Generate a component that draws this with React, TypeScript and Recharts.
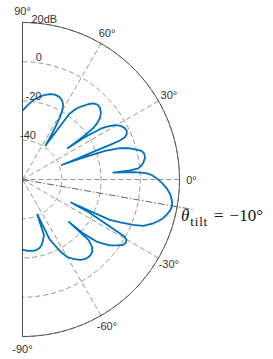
import { RadarChart, Radar, PolarGrid, PolarAngleAxis, PolarRadiusAxis } from 'recharts';

// beam pattern (degrees, dB)
const ANGLES_DEG = [
    90, 86, 82, 78, 75, 72, 69, 66, 63.8, 61.5, 60, 59, 58, 57, 56,
    55, 54.5, 53, 51, 49, 47, 45, 42.7, 40.5, 38.4, 37, 36, 35.2, 34.6,
    34.2, 33, 32, 30.5, 28.5, 26.5, 25, 23.5, 22.5, 21.8, 21.6, 21.4, 20.9, 20.3,
    19.8, 19.1, 18, 16.5, 15, 13.5, 12, 10, 8, 6.5, 5.5, 4.8, 4.3,
    3.8, 3, 2, 0.5, -1.5, -3.5, -5.5, -7.8, -10, -11.7, -13.5, -15.4, -17, -18.5, -19.5, -21, -22.3, -23.5, -24.8, -25.3,
    -26.4, -28.3, -29.2, -30.2, -31.7, -33.1, -35, -37, -38.5, -40, -41.5, -42.4,
    -42.5, -44, -46, -48, -50, -52, -54.3, -57, -60, -62, -64, -65.6, -67,
    -68.8, -71.3, -73.5, -76, -79, -82, -86, -90,
];
const GAIN_DB = [
    -24.9, -22.0, -19.0, -16.8, -15.3, -14.2, -13.7, -13.9, -14.7, -16.5, -19.5, -23, -28, -33, -39,
    -30, -19, -15, -12, -9.2, -7, -6.0, -6.2, -7.5, -9.6, -12.5, -15.4, -22, -32,
    -22, -12.5, -9.2, -5.3, -2.8, -1.6, -1.4, -2.1, -3.6, -6.5, -12, -20, -30, -38.7,
    -28, -15.5, -8.5, -3.8, -0.5, 2.4, 3.4, 3.4, 2.2, 0.8, -0.7, -5, -13.6,
    -3, 3, 5.8, 8.4, 11.2, 13.6, 15.5, 16.8, 17.4, 16.9, 15.8, 14.3, 12.4, 10.3, 8.5, 6, 1.0, -5, -11, -32.6,
    -21.6, -9.3, -0.5, 1.3, 1.7, 1.1, -1.5, -4.2, -7.5, -11, -18, -28,
    -14.3, -10.8, -8.8, -8.2, -8.1, -8.5, -9.5, -11.6, -14.4, -18, -23, -26.5, -40.7,
    -29.7, -27.4, -25.3, -24, -23.4, -23.3, -23.6, -24.3,
];

const SPOKES = [60, 30, 0, -30, -60];
const R_MIN = -60;
const R_MAX = 20;
const TILT = -10;
const TILT_REACH = 28; // dash-dot line runs a bit past the outer ring

const OUTER_R = 157;
const ARC = Array.from({ length: 181 }, (_, i) => 90 - i);

const rows = ANGLES_DEG.map((angle, i) => ({ angle, gain: GAIN_DB[i] }));

const FONT = '"Liberation Sans", Arial, sans-serif';
const GRID = '#7a7a7a';

function AngleTick({ x, y, payload }: any) {
    return (
        <text x={x} y={y} textAnchor="middle" dominantBaseline="central" fontSize={11} fill="#333" fontFamily={FONT}>
            {`${payload.value}°`}
        </text>
    );
}

function RadiusTick({ x, y, payload }: any) {
    if (payload.value <= R_MIN) return <g />;
    const label = payload.value === R_MAX ? `${payload.value}dB` : `${payload.value}`;
    return (
        <text x={x} y={y - 1.5} textAnchor="middle" fontSize={11} fill="#333" fontFamily={FONT}>
            {label}
        </text>
    );
}

function PatternShape(props: any) {
    const pts = props.points ?? [];
    if (!pts.length) return <g />;
    const d = pts.map((p: any, i: number) => `${i ? 'L' : 'M'}${p.x.toFixed(2)},${p.y.toFixed(2)}`).join('');
    const ref = pts.find((p: any) => p.value > R_MIN + 10) ?? pts[0];
    const pxPerDb = ref.radius / (ref.value - R_MIN);
    const reach = pxPerDb * (TILT_REACH - R_MIN);
    const a = (-TILT * Math.PI) / 180;
    const ex = ref.cx + reach * Math.cos(a);
    const ey = ref.cy + reach * Math.sin(a);
    return (
        <g>
            <line x1={ref.cx} y1={ref.cy} x2={ex} y2={ey} stroke="#555" strokeWidth={0.9} strokeDasharray="7 2 1.5 2" />
            <path d={d} fill="none" stroke="#0072BD" strokeWidth={1.8} strokeLinejoin="round" />
        </g>
    );
}

export default function App() {
    return (
        <div style={{ position: 'absolute', left: 0, top: 0, width: 273, height: 359, background: '#fff' }}>
            <RadarChart
                width={273}
                height={359}
                data={rows}
                cx={22.5}
                cy={179.5}
                innerRadius={0}
                outerRadius={OUTER_R}
                startAngle={-90}
                endAngle={90}
                margin={{ top: 0, right: 0, bottom: 0, left: 0 }}
            >
                <PolarGrid gridType="polygon" polarAngles={ARC} radialLines={false} stroke={GRID} strokeWidth={0.8} strokeDasharray="5 3" fill="none" />
                <PolarGrid gridType="polygon" polarAngles={SPOKES} polarRadius={[]} stroke={GRID} strokeWidth={0.8} strokeDasharray="5 3" fill="none" />
                <PolarGrid gridType="polygon" polarAngles={ARC} polarRadius={[OUTER_R]} radialLines={false} stroke="#444" strokeWidth={0.9} fill="none" />
                <PolarAngleAxis
                    dataKey="angle"
                    type="number"
                    domain={[-90, 90]}
                    tickCount={7}
                    axisLine={false}
                    tickLine={false}
                    tickSize={12}
                    tick={<AngleTick />}
                />
                <PolarRadiusAxis angle={82} domain={[R_MIN, R_MAX]} tickCount={5} axisLine={false} tick={<RadiusTick />} />
                <Radar dataKey="gain" shape={PatternShape} dot={false} isAnimationActive={false} />
            </RadarChart>
            <div
                style={{
                    position: 'absolute',
                    left: 181,
                    top: 207,
                    fontFamily: '"Liberation Serif", "Times New Roman", serif',
                    fontSize: 17,
                    lineHeight: 1,
                    whiteSpace: 'nowrap',
                    color: '#111',
                }}
            >
                <i>θ</i>
                <span style={{ fontSize: 13, position: 'relative', top: 5, marginLeft: 1, letterSpacing: 0.8 }}>tilt</span>
                <span style={{ marginLeft: 6 }}>=</span>
                <span style={{ marginLeft: 6 }}>−10°</span>
            </div>
        </div>
    );
}
